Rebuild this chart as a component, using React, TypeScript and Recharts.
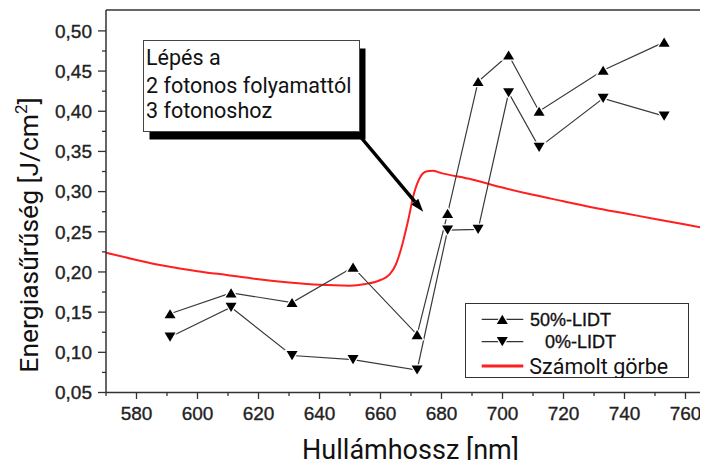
import React from "react";
import { LineChart, Line, XAxis, YAxis, ReferenceLine, Legend } from "recharts";

// LIDT measurements (wavelength in nm, fluence in J/cm²)
const waveNm = [591, 611, 631, 651, 672, 682, 692, 702, 712, 733, 753];
const lidt50 = [0.148, 0.174, 0.162, 0.206, 0.122, 0.273, 0.437, 0.47, 0.4, 0.451, 0.486];
const lidt0 = [0.119, 0.156, 0.096, 0.091, 0.078, 0.252, 0.253, 0.423, 0.355, 0.416, 0.394];

// calculated threshold curve
const curveNm = [570, 580, 590, 600, 610, 620, 630, 640, 650, 655, 660, 663, 665, 667, 669, 671, 673, 675, 677, 680, 690, 700, 710, 720, 730, 740, 750, 760, 770];
const curveVal = [0.224, 0.215, 0.207, 0.201, 0.196, 0.191, 0.187, 0.184, 0.183, 0.185, 0.19, 0.197, 0.209, 0.232, 0.263, 0.298, 0.318, 0.325, 0.326, 0.323, 0.315, 0.305, 0.296, 0.288, 0.28, 0.273, 0.266, 0.259, 0.252];

const xTicks = [570, 580, 590, 600, 610, 620, 630, 640, 650, 660, 670, 680, 690, 700, 710, 720, 730, 740, 750, 760, 770];
const yTicks = [0.05, 0.075, 0.1, 0.125, 0.15, 0.175, 0.2, 0.225, 0.25, 0.275, 0.3, 0.325, 0.35, 0.375, 0.4, 0.425, 0.45, 0.475, 0.5];

// annotation arrow endpoints (data space)
const arrowFrom = { x: 652.6, y: 0.372 };
const arrowTo = { x: 674, y: 0.275 };

const legendOrder = ["50%-LIDT", "0%-LIDT", "Számolt görbe"];

const series50 = waveNm.map((x, i) => ({ x, y: lidt50[i] }));
const series0 = waveNm.map((x, i) => ({ x, y: lidt0[i] }));
const curve = curveNm.map((x, i) => ({ x, y: curveVal[i] }));

const AXIS = "#333";
const TICK_FONT = "'Liberation Sans', Arial, sans-serif";
const ROBOTO = "Roboto, 'Noto Sans', sans-serif";

const isMajorX = (v: number) => v % 20 === 0;
const isMajorY = (v: number) => Math.round(v * 1000) % 50 === 0;

const Tri = ({ cx, cy, up }: { cx?: number; cy?: number; up: boolean }) => {
  if (cx == null || cy == null) return null;
  const w = 5.5;
  const h = 4.6;
  const pts = up
    ? `${cx},${cy - h} ${cx + w},${cy + h} ${cx - w},${cy + h}`
    : `${cx - w},${cy - h} ${cx + w},${cy - h} ${cx},${cy + h}`;
  return <polygon points={pts} fill="#000" stroke="#fff" strokeWidth={2.5} style={{ paintOrder: "stroke" }} />;
};

const BottomTick = (p: any) => {
  const v = p.payload.value;
  const major = isMajorX(v);
  return (
    <g>
      <line x1={p.x} x2={p.x} y1={p.y} y2={p.y + (major ? 6.5 : 3.5)} stroke={AXIS} strokeWidth={1.3} />
      {major && (
        <text x={p.x} y={p.y + 27.5} textAnchor="middle" fontSize={19} fontFamily={TICK_FONT} fill="#222" stroke="#222" strokeWidth={0.35}>
          {v}
        </text>
      )}
    </g>
  );
};

const LeftTick = (p: any) => {
  const v = p.payload.value;
  const major = isMajorY(v);
  return (
    <g>
      <line x1={p.x - (major ? 8 : 4)} x2={p.x} y1={p.y} y2={p.y} stroke={AXIS} strokeWidth={1.3} />
      {major && (
        <text x={p.x - 14} y={p.y} dy="0.36em" textAnchor="end" fontSize={19} fontFamily={TICK_FONT} fill="#222" stroke="#222" strokeWidth={0.35}>
          {v.toFixed(2).replace(".", ",")}
        </text>
      )}
    </g>
  );
};

const TopTick = (p: any) => {
  const major = isMajorX(p.payload.value);
  return <line x1={p.x} x2={p.x} y1={p.y} y2={p.y + (major ? 8 : 5)} stroke={AXIS} strokeWidth={1.3} />;
};

const RightTick = (p: any) => {
  const major = isMajorY(p.payload.value);
  return <line x1={p.x - (major ? 9 : 5)} x2={p.x} y1={p.y} y2={p.y} stroke={AXIS} strokeWidth={1.3} />;
};

const ArrowShape = (p: any) => {
  const { x1, y1, x2, y2 } = p;
  const len = Math.hypot(x2 - x1, y2 - y1);
  const ux = (x2 - x1) / len;
  const uy = (y2 - y1) / len;
  const head = 13;
  const half = 4.5;
  const bx = x2 - ux * head;
  const by = y2 - uy * head;
  return (
    <g>
      <line x1={x1} y1={y1} x2={bx} y2={by} stroke="#000" strokeWidth={3.5} />
      <polygon
        points={`${x2},${y2} ${bx - uy * half},${by + ux * half} ${bx + uy * half},${by - ux * half}`}
        fill="#000"
      />
    </g>
  );
};

const LegendBox = ({ payload }: any) => {
  const items = legendOrder.map((n) => (payload || []).find((e: any) => e.value === n)).filter(Boolean);
  const rows = [16.3, 38.7, 63];
  return (
    <svg width={224} height={75} style={{ display: "block" }}>
      <rect x={0.5} y={0.5} width={223} height={74} fill="#fff" stroke={AXIS} strokeWidth={1} />
      {items.map((e: any, i: number) => {
        const cy = rows[i];
        if (e.value === "Számolt görbe") {
          return (
            <g key={e.value}>
              <line x1={16.7} x2={58.3} y1={cy} y2={cy} stroke={e.color} strokeWidth={3} />
              <text x={64.3} y={cy + 7.6} fontSize={21.5} fontFamily={ROBOTO} fill="#111">
                {e.value}
              </text>
            </g>
          );
        }
        const up = e.value === "50%-LIDT";
        return (
          <g key={e.value}>
            <line x1={16.7} x2={58.3} y1={cy} y2={cy} stroke="#333" strokeWidth={1.2} />
            <Tri cx={37.3} cy={cy} up={up} />
            <text x={up ? 65 : 80} y={cy + 6.5} fontSize={18} fontFamily={TICK_FONT} fill="#111" stroke="#111" strokeWidth={0.35}>
              {e.value}
            </text>
          </g>
        );
      })}
    </svg>
  );
};

// axes are 1px deep so they still render; margins leave the plot at x 106–716, y 10–392.5
const axisCommon = {
  type: "number" as const,
  interval: 0 as const,
  tickSize: 0,
  tickMargin: 0,
  tickLine: false,
  axisLine: { stroke: AXIS, strokeWidth: 1.5 },
  allowDataOverflow: true,
};

export default function App() {
  return (
    <div style={{ position: "relative", width: 708, height: 468, margin: -8, overflow: "hidden", background: "#fff" }}>
      <LineChart width={730} height={468} margin={{ top: 9, right: 13, bottom: 74.5, left: 105 }}>
        <XAxis {...axisCommon} dataKey="x" domain={[570, 770]} ticks={xTicks} height={1} tick={BottomTick} />
        <XAxis {...axisCommon} xAxisId="top" orientation="top" domain={[570, 770]} ticks={xTicks} height={1} tick={TopTick} />
        <YAxis {...axisCommon} domain={[0.05, 0.526]} ticks={yTicks} width={1} tick={LeftTick} />
        <YAxis {...axisCommon} yAxisId="right" orientation="right" domain={[0.05, 0.526]} ticks={yTicks} width={1} tick={RightTick} />

        <Line
          data={curve}
          dataKey="y"
          name="Számolt görbe"
          type="monotone"
          stroke="#ff1f1f"
          strokeWidth={2}
          dot={false}
          activeDot={false}
          isAnimationActive={false}
        />
        <Line
          data={series50}
          dataKey="y"
          name="50%-LIDT"
          type="linear"
          stroke="#3a3a3a"
          strokeWidth={1.2}
          dot={(p: any) => <Tri key={`u${p.index}`} cx={p.cx} cy={p.cy} up />}
          activeDot={false}
          isAnimationActive={false}
        />
        <Line
          data={series0}
          dataKey="y"
          name="0%-LIDT"
          type="linear"
          stroke="#3a3a3a"
          strokeWidth={1.2}
          dot={(p: any) => <Tri key={`d${p.index}`} cx={p.cx} cy={p.cy} up={false} />}
          activeDot={false}
          isAnimationActive={false}
        />

        <ReferenceLine segment={[arrowFrom, arrowTo]} shape={ArrowShape} ifOverflow="visible" />

        <Legend
          verticalAlign="middle"
          align="center"
          layout="horizontal"
          wrapperStyle={{ left: 465, top: 303, width: 224, height: 75 }}
          content={LegendBox}
        />
      </LineChart>

      {/* axis titles and the callout box */}
      <svg width={708} height={468} style={{ position: "absolute", left: 0, top: 0, pointerEvents: "none" }}>
        <text x={410.5} y={459} textAnchor="middle" fontSize={27} fontFamily={ROBOTO} fill="#111">
          Hullámhossz [nm]
        </text>
        <text transform="translate(38,235) rotate(-90)" textAnchor="middle" fontSize={26.5} fontFamily={ROBOTO} fill="#111">
          Energiasűrűség [J/cm
          <tspan fontSize={17} dy={-11}>
            2
          </tspan>
          <tspan dy={11}>]</tspan>
        </text>

        <rect x={149.5} y={48.5} width={216} height={91} fill="#000" />
        <rect x={143.5} y={40.5} width={216} height={91} fill="#fff" stroke="#444" strokeWidth={1} />
        <g fontSize={21.5} fontFamily={ROBOTO} fill="#111">
          <text x={146} y={65}>Lépés a</text>
          <text x={146} y={92.5}>2 fotonos folyamattól</text>
          <text x={146} y={117.5}>3 fotonoshoz</text>
        </g>
      </svg>
    </div>
  );
}
